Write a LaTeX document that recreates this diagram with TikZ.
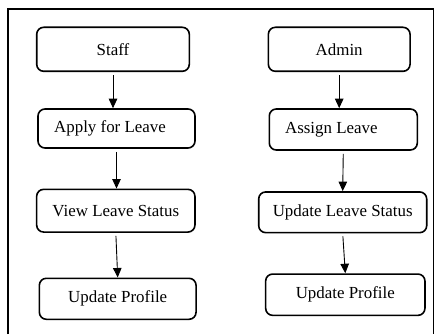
\documentclass[tikz,border=0pt]{standalone}
\usepackage{fontspec}
\setmainfont{Liberation Serif}
\usetikzlibrary{arrows.meta}

\tikzset{
	box/.style={draw, rounded corners=7pt, line width=1.6pt, inner sep=0pt,
		font=\fontsize{16.9}{20}\selectfont},
	arr/.style={-{Triangle[length=9.5pt,width=8.5pt]}, line width=0.9pt, shorten <=3pt}
}

\begin{document}
\begin{tikzpicture}[x=1pt, y=-1pt]
		%%%%% START %%%%%
		\useasboundingbox (0, 0) rectangle (438, 334);
		
		% frame, open at the bottom
		\draw[line width=1.4pt] (8, 334) -- (8, 9) -- (433.5, 9) -- (433.5, 334);
		
		% staff side
		\node[box, minimum width=152.6pt, minimum height=44pt] (staff) at (113, 49.3) {Staff};
		\node[box, minimum width=157pt, minimum height=39pt] (apply) at (116.5, 128.5) {Apply for Leave\hspace*{13pt}};
		\node[box, minimum width=158.3pt, minimum height=42.7pt] (viewstatus) at (115.8, 210.7) {View Leave Status};
		\node[box, minimum width=156.7pt, minimum height=41pt] (profileL) at (117.7, 298.8) {Update Profile};
		
		% admin side
		\node[box, minimum width=141.7pt, minimum height=44pt] (admin) at (339.2, 49.3) {Admin};
		\node[box, minimum width=148pt, minimum height=41pt] (assign) at (343.3, 129.5) {Assign Leave\hspace*{24pt}};
		\node[box, minimum width=168pt, minimum height=40.7pt] (updstatus) at (342.7, 212.3) {Update Leave Status};
		\node[box, minimum width=159.3pt, minimum height=41.3pt] (profileR) at (345.3, 294.7) {Update Profile};
		
		\draw[arr] (staff.south) -- (staff.south |- apply.north);
		\draw[arr] (apply.south) -- (apply.south |- viewstatus.north);
		\draw[arr] (viewstatus.south) -- (profileL.north);
		
		\draw[arr] (admin.south) -- (admin.south |- assign.north);
		\draw[arr] (assign.south) -- (updstatus.north);
		\draw[arr] (updstatus.south) -- (profileR.north);
		%%%%% END %%%%%
	\end{tikzpicture}
\end{document}
